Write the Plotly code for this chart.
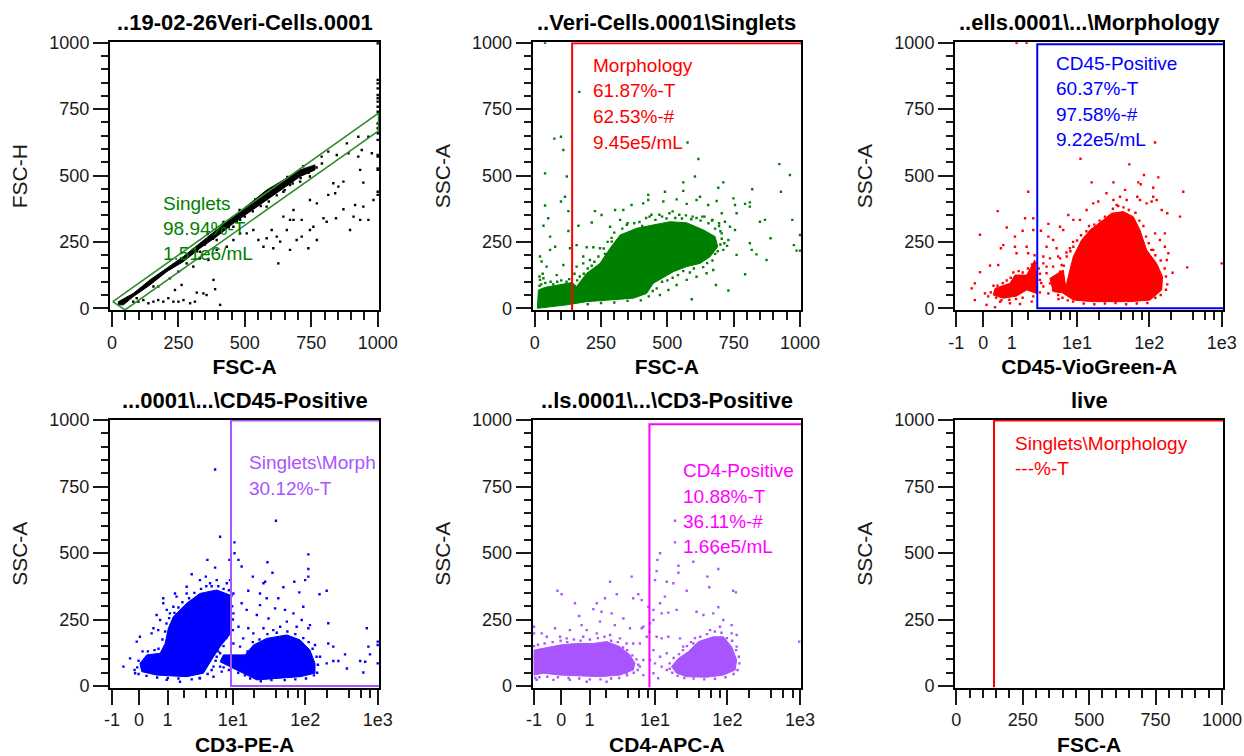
import plotly.graph_objects as go

GREEN, RED, BLUE, PURPLE, MAGENTA = "#008000", "#ff0000", "#0000ff", "#a855ff", "#ff00ff"
P1_BAND = [(24,25),(80,56),(143,107),(206,151),(269,195),(331,245),(394,295),(457,345),(520,395),(582,445),(645,483),(708,521),(764,540),(764,521),(708,496),(645,452),(582,408),(520,364),(457,320),(394,270),(331,226),(269,176),(206,138),(143,88),(80,44),(43,13),(24,13)]
P1_DOTS = [(99,25),(118,31),(137,19),(156,25),(174,31),(193,25),(212,38),(231,25),(250,25),(269,31),(294,19),(312,25),(262,88),(237,69),(319,59),(344,56),(356,50),(382,107),(388,72),(407,13),(174,82),(218,113),(250,138),(306,157),(331,188),(363,182),(394,220),(432,232),(457,257),(482,282),(507,282),(532,295),(551,257),(570,232),(582,264),(601,295),(620,270),(633,251),(607,226),(626,169),(658,295),(670,333),(683,370),(645,345),(714,333),(745,295),(739,226),(771,257),(758,307),(714,270),(695,257),(670,220),(683,333),(745,408),(771,395),(814,427),(840,433),(852,458),(871,477),(833,471),(871,373),(915,389),(946,383),(946,473),(934,521),(978,584),(940,596),(927,571),(884,621),(896,295),(909,345),(965,333),(934,333),(796,339),(808,326),(843,339),(789,571),(814,590),(846,577),(890,584),(927,646),(965,646),(1000,998),(1000,860),(1000,847),(1000,828),(1000,803),(1000,791),(1000,778),(1000,759),(1000,740),(1000,696),(1000,678),(1000,659),(1000,634),(1000,577),(1000,571),(1000,527),(1000,521),(1000,439),(1000,427),(984,408),(457,307),(482,333),(394,257),(331,213),(281,169),(582,383),(645,439),(708,477),(745,496),(670,464),(80,25),(93,38),(156,82),
(300,205),(320,215),(350,240),(380,262),(410,285),(440,305),(470,325),(500,345),(530,365),(560,385),(590,402),(620,425),(650,445),(680,470),(710,490),(740,510),(770,530),(790,545),(360,280),(420,325),(480,370),(540,410),(600,450),(660,495),(720,535)]
P1_GATE = [(3,25),(1003,735),(1003,668),(49,-6),(3,25)]

P2_BLOB = [(10,0),(14,69),(39,79),(95,88),(141,97),(158,82),(196,132),(246,169),(284,226),(322,276),(384,301),(447,314),(510,326),(573,322),(636,295),(680,270),(690,232),(661,194),(623,169),(573,157),(523,138),(447,94),(422,56),(372,38),(271,31),(196,25),(121,13),(70,6),(14,0)]
P2_DOTS = [(39,1000),(168,815),(74,639),(99,646),(108,596),(576,624),(617,562),(39,508),(121,496),(604,496),(922,543),(962,502),(928,439),(820,448),(99,402),(114,420),(39,387),(127,366),(51,339),(33,311),(971,333),(849,326),(868,333),(889,264),(1000,276),(1000,217),(977,238),(987,217),(811,245),(818,220),(836,203),(874,182),(793,128),(730,67),(592,34),(683,88),(560,474),(711,474),(692,454),(560,442),(491,439),(227,366),(252,351),(303,370),(334,370),(365,389),(428,427),(428,408),(409,395),(485,402),(535,410),(573,393),(623,420),(610,408),(654,389),(686,404),(749,414),(755,389),(793,393),(811,399),(811,383),(761,358),(705,358),(215,323),(284,307),(322,333),(347,314),(165,311),(58,270),(127,291),(77,232),(58,220),(20,195),(26,176),(45,157),(83,125),(108,163),(133,226),(158,238),(196,230),(221,230),(183,195),(246,226),(290,251),(328,245),(158,157),(183,169),(208,182),(736,307),(755,295),(717,326),(705,282),(730,257),(711,220),(761,201),(673,144),(648,132),(610,119),(573,107),(535,88),(504,69),(472,50),(20,107),(33,113),(433,345),(470,352),(508,358),(545,352),(595,345),(632,345),(670,333),(695,320),
(420,340),(440,352),(455,333),(480,345),(497,338),(520,365),(530,340),(555,338),(570,350),(590,335),(610,340),(625,330),(640,345),(655,320),(668,330),(680,300),(695,310),(700,290),(705,262),(700,240),(715,245),(725,235),(690,215),(680,205),(670,180),(650,170),(635,155),(640,190),(600,150),(585,135),(560,140),(540,125),(520,115),(500,105),(480,100),(460,75),(445,65),(430,45),(400,30),(350,28),(300,22),(250,20),(200,15),(300,285),(290,265),(275,250),(260,225),(265,205),(240,195),(225,175),(215,160),(200,150),(185,130),(170,120),(160,105),(150,130),(130,110),(120,100),(100,105),(85,100),(70,90),(60,100),(40,95),(25,90),(18,85),(18,120),(30,130),(330,300),(350,320),(375,320),(395,325),(405,310)]
P2_GATE = [(141,-6),(141,998),(1005,998)]

P3_BLOB = [(403,56),(416,94),(428,144),(441,195),(472,257),(504,295),(554,333),(585,358),(629,364),(667,345),(692,295),(717,220),(755,169),(777,119),(774,69),(730,31),(654,25),(516,25),(441,31)]
P3_LEFT = [(139,50),(146,75),(202,94),(221,125),(265,125),(296,182),(303,119),(303,56),(265,69),(227,46),(177,38)]
P3_MID = [(353,113),(403,144),(416,56),(365,63)]
P3_DOTS = [(227,1000),(265,1000),(749,624),(468,563),(652,542),(707,502),(761,493),(510,474),(592,474),(686,474),(695,467),(271,439),(742,454),(855,439),(636,446),(682,420),(692,408),(566,433),(742,420),(736,402),(717,395),(156,366),(259,339),(290,339),(843,345),(795,358),(774,370),(755,408),(422,351),(347,318),(190,304),(250,292),(89,277),(319,292),(290,295),(221,270),(177,238),(168,226),(221,232),(265,232),(227,207),(271,207),(127,161),(158,163),(89,136),(70,94),(58,75),(70,31),(108,56),(114,13),(146,4),(165,25),(202,19),(240,16),(284,25),(870,154),(1000,169),(815,134),(793,182),(799,207),(786,232),(786,282),(767,257),(749,282),(742,220),(347,270),(365,257),(340,232),(378,226),(403,295),(391,307),(441,333),(466,333),(491,370),(516,395),(535,402),(617,420),(592,408),(604,389),(642,408),(353,188),(391,188),(328,169),(365,157),(397,163),(428,226),(340,132),(353,94),(378,107),(391,138),(347,56),(365,69),(384,50),(328,82),(315,107),(378,82),(340,157),(328,195),(384,195),(441,232),(416,195),
(560,345),(540,330),(520,315),(500,310),(490,290),(470,275),(455,255),(440,250),(430,215),(415,210),(405,160),(395,130),(385,120),(590,375),(610,385),(630,380),(650,370),(675,360),(690,330),(705,310),(715,270),(725,245),(735,220),(750,200),(770,180),(785,150),(790,120),(795,90),(790,70),(770,50),(750,40),(720,20),(680,18),(640,15),(600,20),(560,18),(520,15),(480,18),(440,25),(420,30),(400,40),(385,35),(130,60),(140,85),(155,85),(175,95),(190,105),(205,115),(215,135),(235,140),(250,135),(270,150),(285,165),(295,200),(300,170),(310,150),(315,130),(320,95),(315,60),(290,45),(250,40),(225,35),(200,32),(170,30),(150,40),(120,45)]
P3_GATE = [(1005,994),(305,994),(305,0),(1005,0)]

P4_BLOB_A = [(105,85),(131,117),(181,123),(200,160),(212,217),(231,261),(281,311),(331,348),(394,361),(444,342),(447,198),(407,148),(382,110),(344,48),(281,35),(168,41),(112,54)]
P4_BLOB_B = [(407,91),(419,117),(501,117),(532,154),(582,179),(658,192),(708,173),(745,135),(764,85),(764,48),(708,35),(607,29),(545,23),(494,48),(444,73)]
P4_DOTS = [(388,814),(617,621),(407,561),(461,540),(461,499),(442,474),(476,474),(359,474),(585,465),(488,449),(388,445),(604,426),(739,495),(739,440),(739,411),(727,398),(530,411),(576,392),(570,386),(686,392),(353,411),(300,420),(444,398),(645,371),(705,352),(808,358),(781,345),(513,358),(237,348),(243,336),(193,330),(193,311),(206,286),(168,267),(181,248),(156,217),(174,210),(149,198),(105,185),(93,167),(68,104),(43,73),(87,48),(206,23),(256,16),(331,29),(382,35),(407,73),(413,54),(457,348),(488,311),(557,348),(582,330),(626,330),(557,304),(507,286),(545,267),(589,254),(614,292),(651,286),(683,273),(720,298),(745,229),(814,236),(959,217),(965,148),(1000,167),(1000,154),(814,160),(833,148),(877,119),(852,94),(833,94),(884,66),(934,94),(953,91),(971,119),(946,51),(1000,85),(783,110),(808,85),(764,154),(457,273),(476,223),(494,179),(513,217),(532,198),(570,217),(607,210),(633,223),(658,242),(695,223),(714,248),(739,217),(457,160),(482,148),(394,110),(382,73),(407,123),(281,373),(331,398),(394,398),(432,386),(369,386),(281,348),(231,298),(218,273),
(100,95),(115,130),(135,130),(160,135),(175,140),(190,175),(200,205),(205,235),(215,255),(235,275),(250,295),(265,315),(290,330),(310,350),(335,365),(355,375),(375,375),(400,375),(420,365),(440,360),(450,340),(452,300),(455,250),(455,210),(430,180),(420,150),(400,130),(390,95),(375,60),(360,45),(330,30),(300,25),(250,28),(210,30),(170,32),(130,38),(100,45),(85,60),(95,70),(510,130),(530,165),(555,175),(585,195),(620,200),(660,205),(690,195),(720,180),(740,165),(755,140),(770,110),(775,80),(772,50),(760,40),(730,28),(690,25),(650,22),(600,22),(560,18),(520,28),(500,40),(475,50),(440,60),(420,70)]
P4_GATE = [(1005,998),(448,998),(448,0),(1005,0)]

P5_BLOB_A = [(0,135),(35,142),(98,154),(160,160),(223,160),(273,167),(323,148),(361,117),(380,85),(373,60),(323,41),(248,35),(173,38),(98,41),(35,48),(0,41)]
P5_BLOB_B = [(517,73),(543,104),(580,129),(618,167),(674,185),(712,185),(743,148),(762,98),(756,60),(712,41),(649,33),(574,35),(536,48)]
P5_DOTS = [(530,621),(530,540),(474,499),(464,474),(543,452),(599,467),(680,499),(693,440),(461,432),(543,426),(652,411),(659,371),(749,358),(759,352),(367,411),(286,392),(455,398),(499,392),(524,386),(574,358),(392,345),(373,330),(405,323),(311,345),(267,330),(236,311),(223,289),(254,279),(88,358),(104,345),(154,311),(170,263),(430,298),(492,336),(474,311),(449,286),(480,273),(505,276),(536,286),(611,279),(637,267),(674,273),(693,296),(712,248),(743,229),(762,192),(997,167),(0,223),(0,198),(29,198),(79,217),(135,210),(179,229),(198,210),(248,242),(292,273),(336,254),(304,229),(361,217),(405,217),(436,236),(434,204),(424,185),(411,223),(398,160),(373,160),(449,248),(461,185),(480,179),(505,185),(549,179),(561,148),(599,160),(449,135),(474,110),(499,123),(455,85),(480,73),(499,60),(449,48),(467,29),(436,98),(411,98),(398,73),(411,41),(98,185),(48,185),(123,179),(185,185),(236,198),(286,192),(323,179),(348,160),(73,23),(135,23),(198,16),(273,16),(10,23),(348,48),(762,148),(743,198),(699,223),(662,210),
(0,150),(15,155),(40,160),(70,165),(100,170),(125,165),(150,175),(175,170),(210,175),(240,180),(265,185),(290,170),(315,165),(335,145),(350,135),(370,115),(385,100),(392,80),(390,60),(375,50),(350,40),(320,30),(290,28),(250,25),(210,25),(170,28),(130,30),(90,33),(50,35),(20,33),(5,30),(510,85),(525,105),(545,120),(560,135),(575,150),(590,165),(605,180),(625,185),(650,195),(680,205),(705,200),(725,180),(745,170),(760,135),(770,110),(772,85),(765,60),(750,45),(720,33),(680,27),(640,25),(600,28),(565,30),(540,38),(520,50),(510,65)]
P5_GATE = [(434,-6),(434,984),(1005,984)]
P6_GATE = [(142,-6),(142,998),(1005,998)]

LIN_TICKS = [0, 250, 500, 750, 1000]
LIN_LABELS = ["0", "250", "500", "750", "1000"]
BIEX_TICKS = [0, 102, 209, 455, 727, 1000]
BIEX_LABELS = ["-1", "0", "1", "1e1", "1e2", "1e3"]
BIEX_MINOR = [272, 353, 394, 430, 536, 619, 664, 699, 809, 891, 937, 972]

TITLES = ["..19-02-26Veri-Cells.0001", "..Veri-Cells.0001\\Singlets", "..ells.0001\\...\\Morphology",
          "...0001\\...\\CD45-Positive", "..ls.0001\\...\\CD3-Positive", "live"]
XTITLES = ["FSC-A", "FSC-A", "CD45-VioGreen-A", "CD3-PE-A", "CD4-APC-A", "FSC-A"]
YTITLES = ["FSC-H", "SSC-A", "SSC-A", "SSC-A", "SSC-A", "SSC-A"]
NOTES = [["Singlets", "98.94%-T", "1.51e6/mL"],
         ["Morphology", "61.87%-T", "62.53%-#", "9.45e5/mL"],
         ["CD45-Positive", "60.37%-T", "97.58%-#", "9.22e5/mL"],
         ["Singlets\\Morph", "30.12%-T"],
         ["CD4-Positive", "10.88%-T", "36.11%-#", "1.66e5/mL"],
         ["Singlets\\Morphology", "---%-T"]]
NOTE_X = [184, 211, 367, 509, 551, 215]
NOTE_Y = [[396, 302, 208], [913, 819, 721, 623], [922, 826, 731, 634], [840, 743], [809, 714, 620, 526], [912, 816]]
NOTE_COLOR = [GREEN, RED, BLUE, PURPLE, MAGENTA, RED]

PANELS = [
    dict(dots=P1_DOTS, blobs=[P1_BAND], dot="#000000", gate=P1_GATE, gc="#2e8b2e", biex=False),
    dict(dots=P2_DOTS, blobs=[P2_BLOB], dot=GREEN, gate=P2_GATE, gc=RED, biex=False),
    dict(dots=P3_DOTS, blobs=[P3_BLOB, P3_LEFT, P3_MID], dot=RED, gate=P3_GATE, gc=BLUE, biex=True),
    dict(dots=P4_DOTS, blobs=[P4_BLOB_A, P4_BLOB_B], dot=BLUE, gate=P4_GATE, gc=PURPLE, biex=True),
    dict(dots=P5_DOTS, blobs=[P5_BLOB_A, P5_BLOB_B], dot=PURPLE, gate=P5_GATE, gc=MAGENTA, biex=True),
    dict(dots=[], blobs=[], dot=RED, gate=P6_GATE, gc=RED, biex=False),
]
FRAMES = [(110, 379, 42.3, 310), (532.7, 801, 42.3, 310), (955, 1223.3, 42.3, 310),
          (110, 379, 420, 687.5), (532.7, 801, 420, 687.5), (955, 1223.3, 420, 687.5)]
X_PX = [(112, 377.7), (534.7, 800), (956.3, 1221.7), (112, 377.7), (534, 800), (956.3, 1222)]
Y_PX = [(308.3, 42.7)] * 3 + [(686, 420)] * 3

W, H = 1244, 756
FONT = "Liberation Sans"
INK = "#1a1a1a"
fig = go.Figure()
for i, p in enumerate(PANELS):
    n = "" if i == 0 else str(i + 1)
    xa, ya = f"x{n}", f"y{n}"
    for blob in p["blobs"]:
        fig.add_trace(go.Scatter(x=[v[0] for v in blob] + [blob[0][0]], y=[v[1] for v in blob] + [blob[0][1]],
                                 mode="lines", fill="toself", fillcolor=p["dot"], hoverinfo="skip",
                                 line=dict(color=p["dot"], width=1), xaxis=xa, yaxis=ya, showlegend=False))
    if p["dots"]:
        fig.add_trace(go.Scatter(x=[v[0] for v in p["dots"]], y=[v[1] for v in p["dots"]], mode="markers",
                                 marker=dict(color=p["dot"], size=2.4, symbol="square", line=dict(width=0)),
                                 xaxis=xa, yaxis=ya, showlegend=False))
    fig.add_trace(go.Scatter(x=[v[0] for v in p["gate"]], y=[v[1] for v in p["gate"]], mode="lines",
                             line=dict(color=p["gc"], width=1.6 if i == 0 else 2), xaxis=xa, yaxis=ya, showlegend=False))
    l, r, t, b = FRAMES[i]
    x0, x1 = X_PX[i]
    y0, y1 = Y_PX[i]
    sx = 1000 / (x1 - x0)
    sy = 1000 / (y0 - y1)
    frame = dict(showline=True, linecolor="#000000", linewidth=2, mirror=True, showgrid=False, zeroline=False,
                 ticks="outside", tickcolor=INK, tickwidth=1.5, ticklen=15, automargin=False,
                 tickfont=dict(family=FONT, size=18, color=INK))
    xminor = dict(tickvals=BIEX_MINOR) if p["biex"] else dict(dtick=50)
    fig.update_layout({
        f"xaxis{n}": dict(frame, domain=[l / W, r / W], range=[(l - x0) * sx, (r - x0) * sx], anchor=ya,
                          tickmode="array", tickvals=BIEX_TICKS if p["biex"] else LIN_TICKS,
                          ticktext=BIEX_LABELS if p["biex"] else LIN_LABELS,
                          minor=dict(xminor, ticks="outside", ticklen=8, tickcolor=INK, tickwidth=1.5),
                          title=dict(text=f"<b>{XTITLES[i]}</b>", font=dict(family=FONT, size=21, color="#000000"), standoff=8)),
        f"yaxis{n}": dict(frame, domain=[1 - b / H, 1 - t / H], range=[(y0 - b) * sy, (y0 - t) * sy], anchor=xa,
                          tickmode="array", tickvals=LIN_TICKS, ticktext=LIN_LABELS,
                          minor=dict(dtick=50, ticks="outside", ticklen=7, tickcolor=INK, tickwidth=1.5),
                          title=dict(text=YTITLES[i], font=dict(family=FONT, size=21, color=INK), standoff=16)),
    })
    fig.add_annotation(text=f"<b>{TITLES[i]}</b>", xref=f"{xa} domain", yref=f"{ya} domain", x=0.5, y=1,
                       yanchor="bottom", yshift=5, showarrow=False, font=dict(family=FONT, size=22, color="#000000"))
    for line, yv in zip(NOTES[i], NOTE_Y[i]):
        fig.add_annotation(text=line, xref=xa, yref=ya, x=NOTE_X[i], y=yv, xanchor="left", yanchor="middle",
                           showarrow=False, font=dict(family=FONT, size=19, color=NOTE_COLOR[i]))

fig.update_layout(width=W, height=H, margin=dict(l=0, r=0, t=0, b=0, autoexpand=False), plot_bgcolor="white", paper_bgcolor="white",
                  showlegend=False)
fig.write_html("out.html", config=dict(displayModeBar=False), post_script="document.body.style.margin='0';")
